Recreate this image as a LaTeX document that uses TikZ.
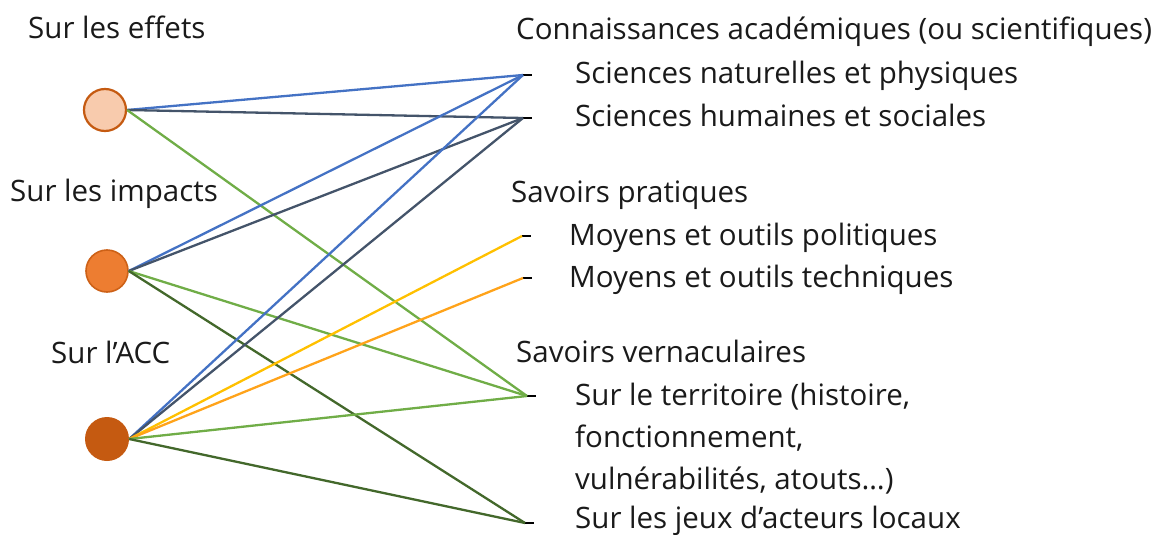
\documentclass[tikz,border=0pt]{standalone}
\usepackage{fontspec}
\setmainfont{Open Sans}
\definecolor{cblue}{HTML}{4472C4}
\definecolor{cslate}{HTML}{44546A}
\definecolor{cgreen}{HTML}{70AD47}
\definecolor{cdgreen}{HTML}{43682B}
\definecolor{cyellow}{HTML}{FFC000}
\definecolor{corange}{HTML}{FFA31A}
\definecolor{cpeach}{HTML}{F8CBAD}
\definecolor{corg}{HTML}{ED7D31}
\definecolor{cdorg}{HTML}{C55A11}
\definecolor{ctext}{HTML}{1A1A1A}
\begin{document}
\begin{tikzpicture}[x=1pt,y=-1pt,
  lbl/.style={anchor=base west,inner sep=0pt,font=\fontsize{29.5}{34}\selectfont,text=ctext},
  dot/.style={circle,minimum size=42pt,inner sep=0pt},
  link/.style={line width=2.3pt},
  tick/.style={line width=1.5pt,black}]
\useasboundingbox (0,0) rectangle (1172,535);
% circles
\node[dot,fill=cpeach,draw=cdorg,line width=2.2pt] (e) at (105,110) {};
\node[dot,fill=corg,draw=cdorg!80!corg,line width=1.6pt] (i) at (107,271) {};
\node[dot,fill=cdorg,minimum size=44pt] (a) at (107,439) {};
% left labels
\node[lbl] (le) at (28,38) {Sur les effets};
\node[lbl] (li) at (10,201) {Sur les impacts};
\node[lbl] (la) at (51,363) {Sur l’ACC};
% right labels
\node[lbl] (r0) at (516,40) {Connaissances académiques (ou scientifiques)};
\node[lbl] (r1) at (575,84) {Sciences naturelles et physiques};
\node[lbl] (r2) at (575,126) {Sciences humaines et sociales};
\node[lbl] (r3) at (511,202) {Savoirs pratiques};
\node[lbl] (r4) at (569,245) {Moyens et outils politiques};
\node[lbl] (r5) at (569,287) {Moyens et outils techniques};
\node[lbl] (r6) at (516,362) {Savoirs vernaculaires};
\node[lbl] (r7) at (575,405) {Sur le territoire (histoire,};
\node[lbl] (r8) at (575,447) {fonctionnement,};
\node[lbl] (r9) at (575,489) {vulnérabilités, atouts…)};
\node[lbl] (r10) at (575,528) {Sur les jeux d’acteurs locaux};
% endpoints
\coordinate (sn) at (523,75);
\coordinate (sh) at (523,118);
\coordinate (mp) at (522,236);
\coordinate (mt) at (523,278);
\coordinate (te) at (527,396);
\coordinate (je) at (525,523);
\foreach \p in {sn,sh,mp,mt,te,je} \draw[tick] (\p) -- ++(9,0);
% links
\draw[link,cblue] (e.east) -- (sn);
\draw[link,cslate] (e.east) -- (sh);
\draw[link,cgreen] (e.east) -- (te);
\draw[link,cblue] (i.east) -- (sn);
\draw[link,cslate] (i.east) -- (sh);
\draw[link,cgreen] (i.east) -- (te);
\draw[link,cdgreen] (i.east) -- (je);
\draw[link,cblue] (a.east) -- (sn);
\draw[link,cslate] (a.east) -- (sh);
\draw[link,cyellow] (a.east) -- (mp);
\draw[link,corange] (a.east) -- (mt);
\draw[link,cgreen] (a.east) -- (te);
\draw[link,cdgreen] (a.east) -- (je);
\end{tikzpicture}
\end{document}
